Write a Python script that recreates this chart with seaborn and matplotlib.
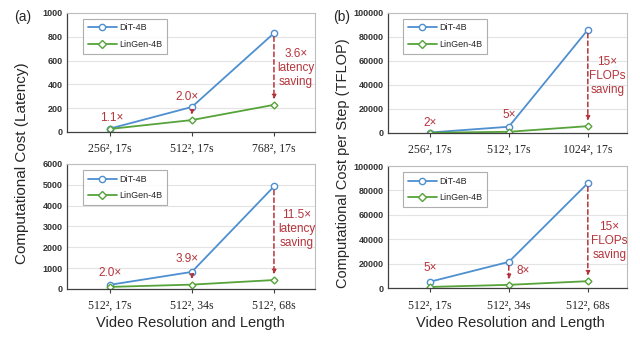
import numpy as np
import pandas as pd
import matplotlib
matplotlib.use("Agg")
import matplotlib.pyplot as plt
import seaborn as sns

sns.set_theme(style="white")
plt.rcParams['font.family'] = ['Liberation Sans', 'DejaVu Sans']

# ---------------- data ----------------
cats_a_top = ["256², 17s", "512², 17s", "768², 17s"]
dit_a_top = [28, 210, 830]
lin_a_top = [25, 100, 228]

cats_a_bot = ["512², 17s", "512², 34s", "512², 68s"]
dit_a_bot = [200, 820, 4920]
lin_a_bot = [100, 210, 430]

cats_b_top = ["256², 17s", "512², 17s", "1024², 17s"]
dit_b_top = [400, 5200, 86000]
lin_b_top = [200, 1000, 5700]

cats_b_bot = ["512², 17s", "512², 34s", "512², 68s"]
dit_b_bot = [5200, 21500, 86000]
lin_b_bot = [1000, 2700, 5700]

series_names = ["DiT-4B", "LinGen-4B"]

BLUE = "#4E8FD0"
GREEN = "#56A33A"
RED = "#B5343C"

fig = plt.figure(figsize=(6.4, 3.41), dpi=100)

def panel(rect, cats, dit, lin, ylim, ystep, xlim, arrows, texts):
    ax = fig.add_axes(rect)
    df = pd.DataFrame({
        "cat": cats * 2,
        "val": list(dit) + list(lin),
        "model": [series_names[0]] * 3 + [series_names[1]] * 3,
    })
    sns.lineplot(data=df, x="cat", y="val", hue="model", style="model",
                 palette=[BLUE, GREEN], markers={"DiT-4B": "o", "LinGen-4B": "D"},
                 dashes=False, markersize=4.5, markerfacecolor="white",
                 markeredgewidth=1.0, linewidth=1.3, ax=ax, sort=False)
    for line in ax.lines:
        line.set_markeredgecolor(line.get_color())
        line.set_markerfacecolor("white")
    ax.lines[1].set_markersize(3.5)
    ax.set_ylim(*ylim)
    ax.set_yticks(np.arange(ylim[0], ylim[1] + 1, ystep))
    ax.set_xlim(*xlim)
    ax.set_xlabel("")
    ax.set_ylabel("")
    ax.grid(axis="y", color="#E3E3E3", linewidth=0.8)
    ax.set_axisbelow(True)
    for s in ["top", "right"]:
        ax.spines[s].set_color("#BDBDBD")
        ax.spines[s].set_linewidth(0.8)
    for s in ["left", "bottom"]:
        ax.spines[s].set_color("#404040")
        ax.spines[s].set_linewidth(0.9)
    ax.tick_params(axis="y", length=0, labelsize=6.5, labelcolor="#333333", pad=3)
    ax.tick_params(axis="x", length=3, width=0.8, color="#404040", bottom=True,
                   labelsize=8.5, pad=5)
    for lab in ax.get_yticklabels():
        lab.set_fontweight("bold")
    for lab in ax.get_xticklabels():
        lab.set_fontfamily(["Liberation Serif", "DejaVu Serif"])
    leg = ax.legend(loc="upper left", bbox_to_anchor=(0.065, 0.95), fontsize=6.5,
                    frameon=True, fancybox=False, edgecolor="#9A9A9A",
                    handlelength=3.2, borderpad=0.5, labelspacing=0.85,
                    handletextpad=0.3, borderaxespad=0)
    leg.get_frame().set_linewidth(0.8)
    for i in arrows:
        span = ylim[1] - ylim[0]
        ax.annotate("", xy=(i, lin[i] + span * 0.045), xytext=(i, dit[i] - span * 0.03),
                    arrowprops=dict(arrowstyle="-|>", color=RED, lw=1.1,
                                    linestyle=(0, (3, 2)), mutation_scale=6,
                                    shrinkA=0, shrinkB=0))
    for (x, y, s) in texts:
        ax.text(x, y, s, color=RED, fontsize=8.5, ha="center", va="center",
                linespacing=1.2)
    return ax

ax1 = panel([0.1047, 0.613, 0.3875, 0.349], cats_a_top, dit_a_top, lin_a_top,
            (0, 1000), 200, (-0.52, 2.5), [1, 2],
            [(0.02, 120, "1.1×"), (0.94, 294, "2.0×"), (2.27, 538, "3.6×\nlatency\nsaving")])
ax2 = panel([0.1047, 0.1525, 0.3875, 0.3666], cats_a_bot, dit_a_bot, lin_a_bot,
            (0, 6000), 1000, (-0.52, 2.5), [1, 2],
            [(0.0, 768, "2.0×"), (0.94, 1440, "3.9×"), (2.28, 2880, "11.5×\nlatency\nsaving")])
ax3 = panel([0.606, 0.610, 0.373, 0.352], cats_b_top, dit_b_top, lin_b_top,
            (0, 100000), 20000, (-0.53, 2.49), [2],
            [(0.0, 8300, "2×"), (1.0, 15000, "5×"), (2.25, 47500, "15×\nFLOPs\nsaving")])
ax4 = panel([0.606, 0.155, 0.373, 0.358], cats_b_bot, dit_b_bot, lin_b_bot,
            (0, 100000), 20000, (-0.53, 2.49), [1, 2],
            [(0.0, 16400, "5×"), (1.18, 13900, "8×"), (2.27, 38500, "15×\nFLOPs\nsaving")])

fig.text(0.035, 0.52, "Computational Cost (Latency)", rotation=90, ha="center",
         va="center", fontsize=11)
fig.text(0.536, 0.52, "Computational Cost per Step (TFLOP)", rotation=90, ha="center",
         va="center", fontsize=10.5)
fig.text(0.297, 0.053, "Video Resolution and Length", ha="center", va="center",
         fontsize=10.5)
fig.text(0.797, 0.053, "Video Resolution and Length", ha="center", va="center",
         fontsize=10.5)
fig.text(0.022, 0.95, "(a)", fontsize=10, ha="left", va="center")
fig.text(0.52, 0.95, "(b)", fontsize=10, ha="left", va="center")

fig.savefig("out.png", dpi=100)
